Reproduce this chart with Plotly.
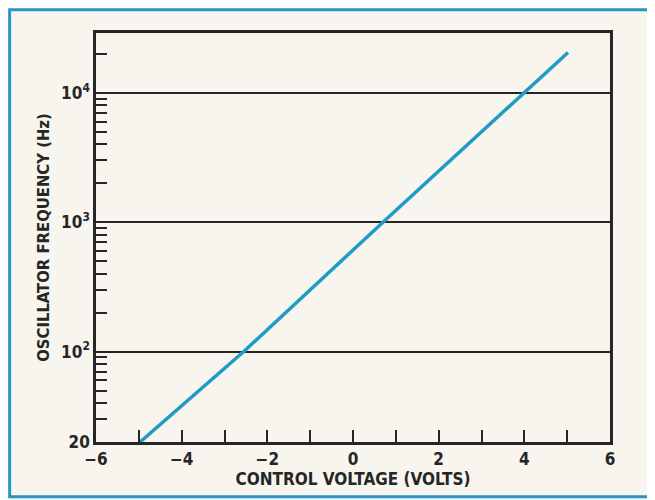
import math
import plotly.graph_objects as go

# Data
voltage = [-4.97, -2.55, 0.70, 3.98, 5.02]
frequency = [20, 100, 1000, 10000, 20500]

x_major = [-6, -4, -2, 0, 2, 4, 6]
x_labels = ["\u22126", "\u22124", "\u22122", "0", "2", "4", "6"]
x_minor = [-5, -3, -1, 1, 3, 5]

y_major = [20, 100, 1000, 10000]
y_labels = ["20", "10<sup>2</sup>", "10<sup>3</sup>", "10<sup>4</sup>"]
y_minor = [30, 40, 50, 60, 70, 80, 90,
           200, 300, 400, 500, 600, 700, 800, 900,
           2000, 3000, 4000, 5000, 6000, 7000, 8000, 9000,
           20000]

FONT = "DejaVu Sans Condensed, Liberation Sans Narrow, sans-serif"
INK = "#262626"
LINE = "#1f9cc6"
FRAME = "#2797c2"
BG = "#f7f5ee"

fig = go.Figure()
fig.add_trace(go.Scatter(x=voltage, y=frequency, mode="lines",
                         line=dict(color=LINE, width=3.5), hoverinfo="skip",
                         showlegend=False))

fig.update_layout(
    width=655, height=500,
    margin=dict(l=88, r=53, t=25, b=66),
    paper_bgcolor=BG, plot_bgcolor=BG,
    font=dict(family=FONT, color=INK, size=16, weight="bold"),
    showlegend=False,
    shapes=[dict(type="rect", xref="paper", yref="paper",
                 x0=-0.168, x1=1.081, y0=-0.134, y1=1.057,
                 line=dict(color=FRAME, width=3), layer="below")],
)

fig.update_xaxes(
    range=[-6, 6], tickvals=x_major, ticktext=x_labels,
    ticks="inside", ticklen=12, tickwidth=2, tickcolor=INK,
    showline=True, linecolor=INK, linewidth=2.5, mirror=True,
    showgrid=False, zeroline=False,
    minor=dict(tickvals=x_minor, ticks="inside", ticklen=12, tickwidth=2,
               tickcolor=INK, showgrid=False),
    tickfont=dict(size=17, weight="bold"),
    title=dict(text="CONTROL VOLTAGE (VOLTS)", font=dict(size=17, weight="bold"), standoff=2),
)

fig.update_yaxes(
    type="log", range=[math.log10(20), math.log10(29000)],
    tickvals=y_major, ticktext=y_labels,
    ticks="", showline=True, linecolor=INK, linewidth=2.5, mirror=True,
    showgrid=True, gridcolor=INK, gridwidth=2, zeroline=False,
    minor=dict(tickvals=y_minor, ticks="inside", ticklen=11, tickwidth=2,
               tickcolor=INK, showgrid=False),
    tickfont=dict(size=17, weight="bold"),
    title=dict(text="OSCILLATOR FREQUENCY (Hz)", font=dict(size=16.5, weight="bold"), standoff=8),
)

fig.write_html("out.html")
